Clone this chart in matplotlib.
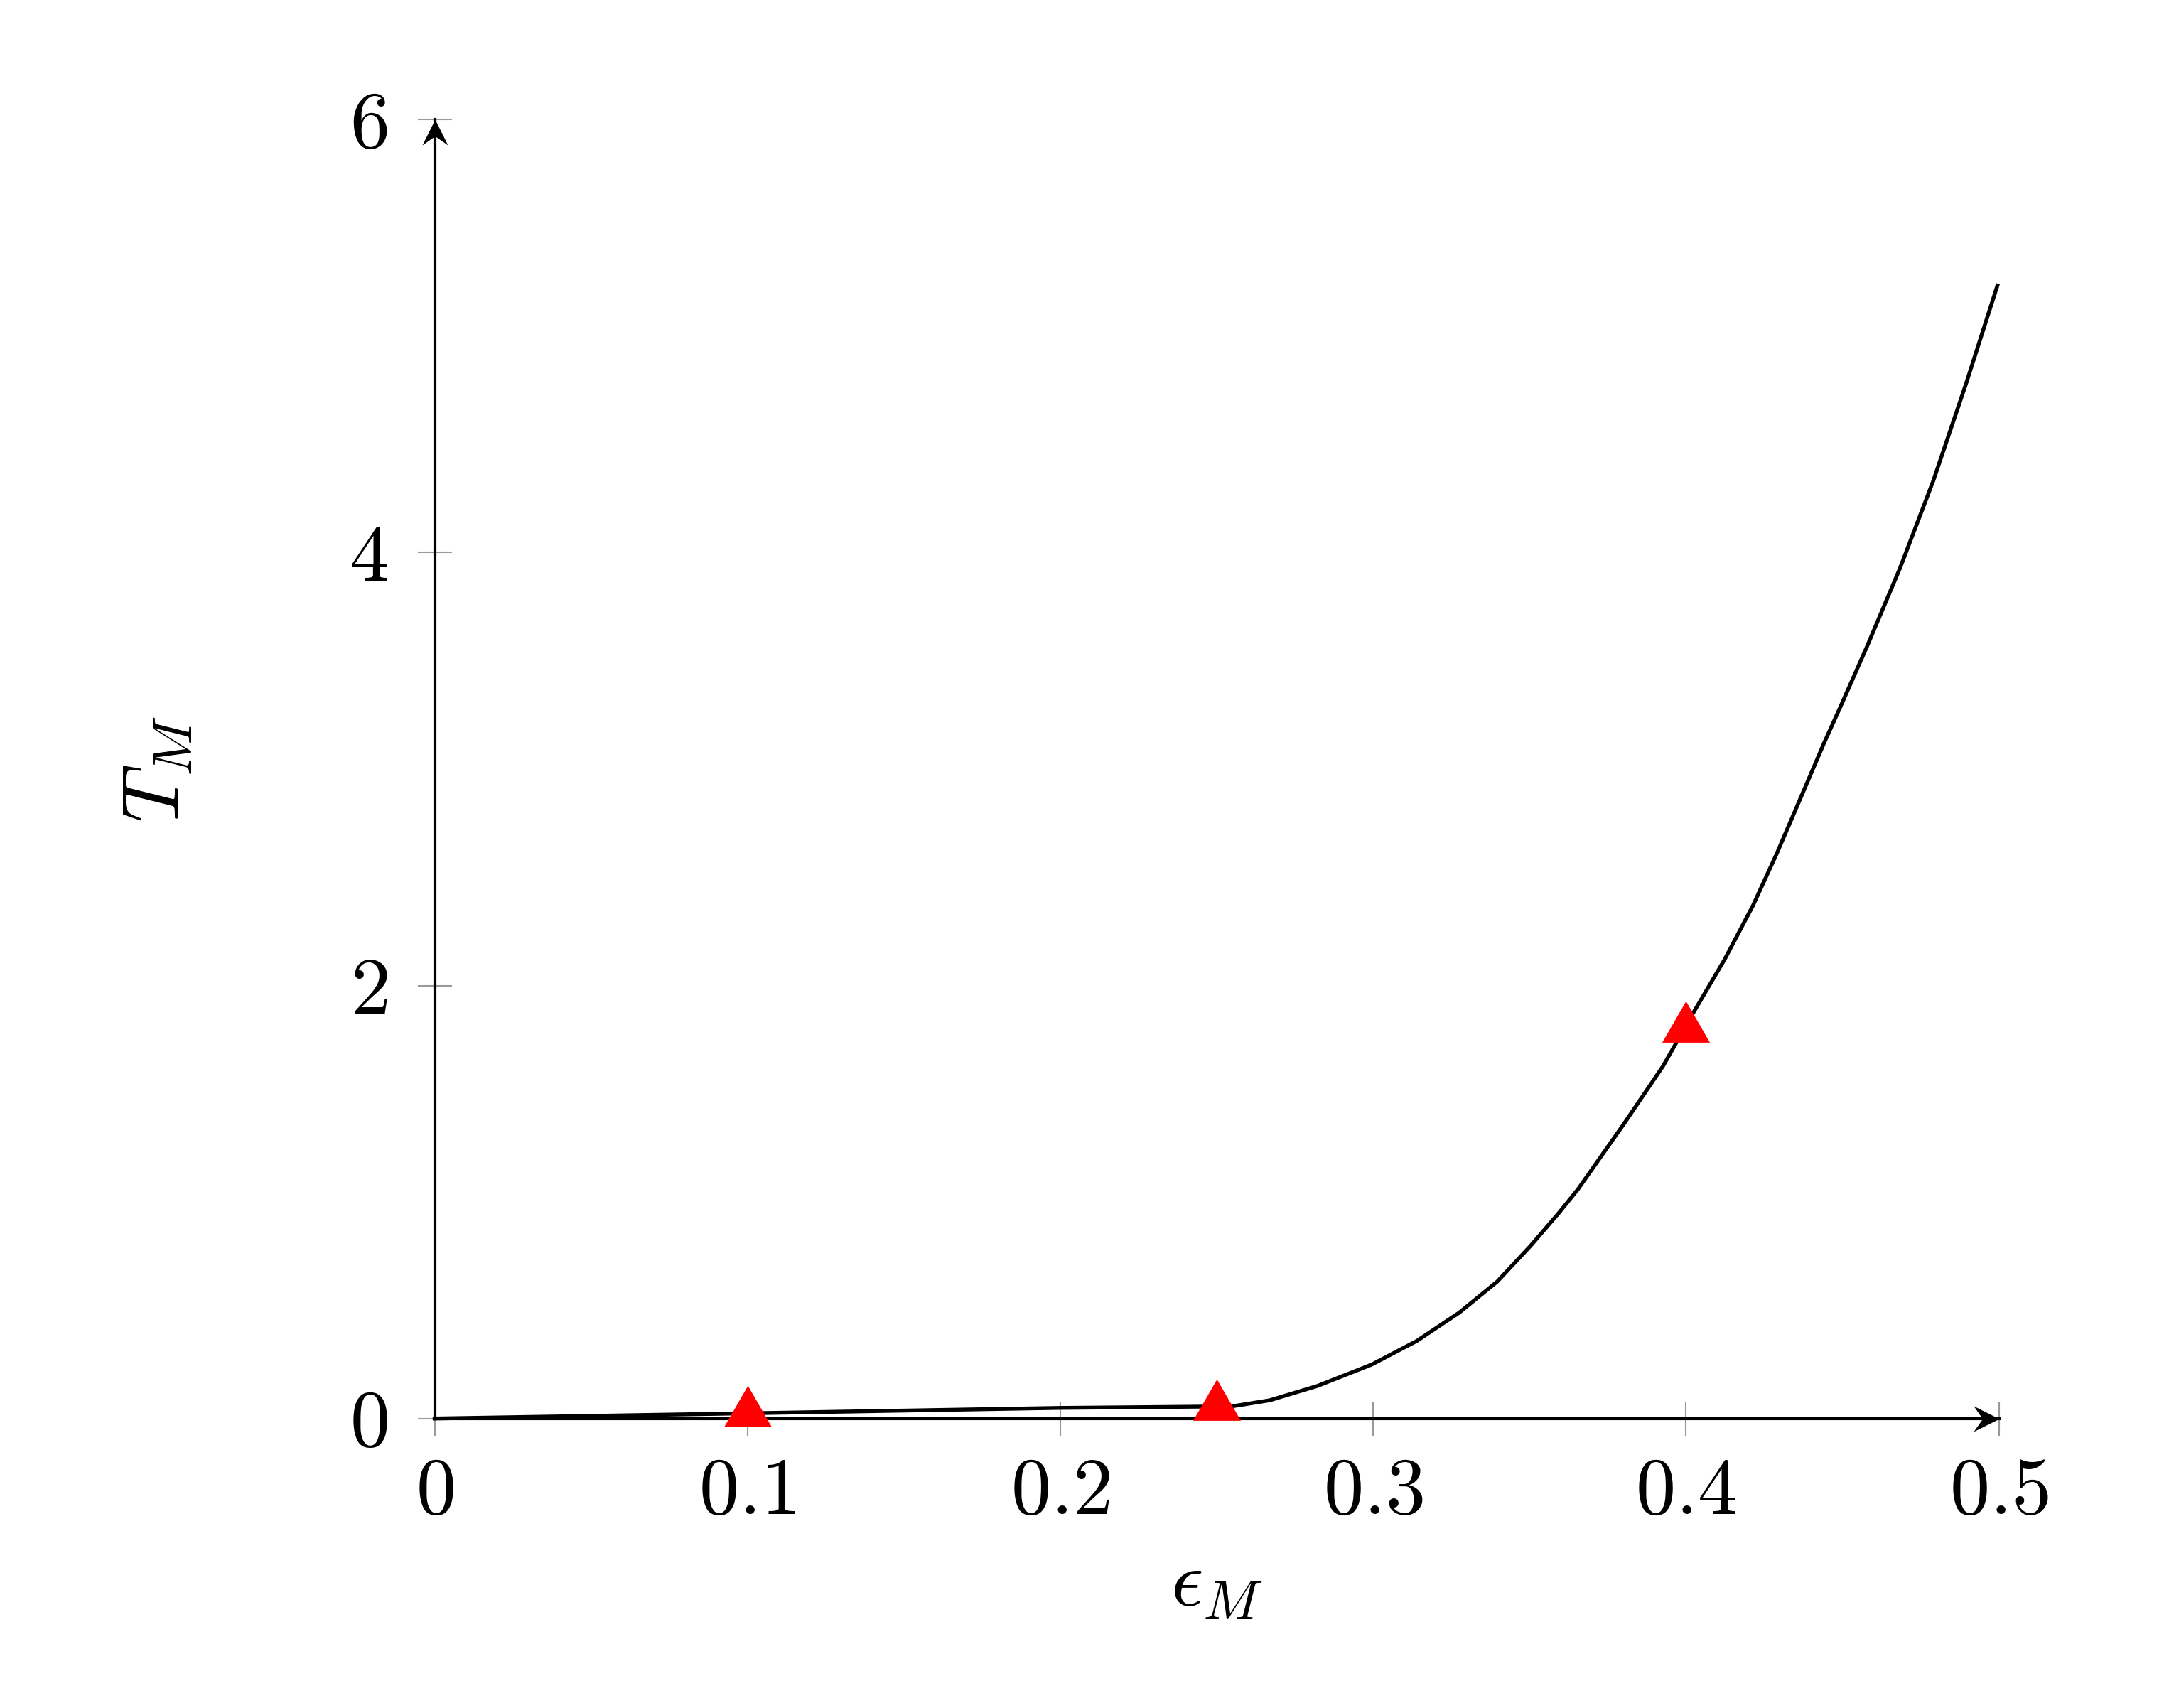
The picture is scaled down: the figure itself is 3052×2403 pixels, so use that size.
import matplotlib
matplotlib.use("Agg")
import matplotlib.pyplot as plt
from matplotlib.path import Path

plt.rcParams['mathtext.fontset'] = 'cm'
plt.rcParams['font.family'] = 'serif'
plt.rcParams['font.serif'] = ['cmr10', 'DejaVu Serif']
plt.rcParams['axes.formatter.use_mathtext'] = True

# curve
eps_m = [0.0, 0.1, 0.2, 0.2548, 0.2669, 0.2821, 0.2995, 0.3139, 0.3275, 0.3396,
         0.3502, 0.3593, 0.3654, 0.3798, 0.3926, 0.4025, 0.4123, 0.4214, 0.429,
         0.4373, 0.4441, 0.4494, 0.4578, 0.4684, 0.479, 0.4896, 0.4995]
t_m = [0.0, 0.024, 0.049, 0.056, 0.084, 0.150, 0.249, 0.358, 0.489, 0.632,
       0.796, 0.949, 1.058, 1.354, 1.627, 1.879, 2.120, 2.37, 2.61,
       2.89, 3.12, 3.29, 3.565, 3.929, 4.331, 4.785, 5.233]

# red triangle points
pts_eps = [0.1, 0.25, 0.4]
pts_t = [0.025, 0.055, 1.80]

xticks = [0, 0.1, 0.2, 0.3, 0.4, 0.5]
xlabels = ["0", "0.1", "0.2", "0.3", "0.4", "0.5"]
yticks = [0, 2, 4, 6]
ylabels = ["0", "2", "4", "6"]

fig = plt.figure(figsize=(3053 / 300, 2403 / 300), dpi=300)
ax = fig.add_axes([0.2003, 0.1695, 0.9213 - 0.2003, 0.930 - 0.1695])

ax.plot(eps_m, t_m, color='black', lw=1.3, zorder=3, clip_on=False,
        solid_joinstyle='round')

tri = Path([(0, 1), (-0.866, -0.5), (0.866, -0.5), (0, 1)],
           [Path.MOVETO, Path.LINETO, Path.LINETO, Path.CLOSEPOLY])
ax.plot(pts_eps, pts_t, linestyle='none', marker=tri, ms=18.6,
        color='#ff0000', mec='none', zorder=4, clip_on=False)

ax.set_xlim(0, 0.5)
ax.set_ylim(0, 6)

for s in ['top', 'right']:
    ax.spines[s].set_visible(False)
for s in ['left', 'bottom']:
    ax.spines[s].set_linewidth(1.0)
    ax.spines[s].set_zorder(2)

# stealth-like arrow heads at the axis ends
right_tip = Path([(0, 0), (-1, 0.5), (-0.65, 0), (-1, -0.5), (0, 0)],
                 [Path.MOVETO, Path.LINETO, Path.LINETO, Path.LINETO, Path.CLOSEPOLY])
up_tip = Path([(0, 0), (-0.5, -1), (0, -0.65), (0.5, -1), (0, 0)],
              [Path.MOVETO, Path.LINETO, Path.LINETO, Path.LINETO, Path.CLOSEPOLY])
ax.plot([0.5], [0], marker=right_tip, ms=17.3, color='black', mec='none',
        clip_on=False, zorder=5)
ax.plot([0], [6], marker=up_tip, ms=17.3, color='black', mec='none',
        clip_on=False, zorder=5)

ax.set_xticks(xticks)
ax.set_xticklabels(["$" + l + "$" for l in xlabels])
ax.set_yticks(yticks)
ax.set_yticklabels(["$" + l + "$" for l in ylabels])
ax.tick_params(direction='inout', length=11.5, width=0.5, color='#999999',
               labelsize=27)
ax.tick_params(axis='x', pad=7.5)
ax.tick_params(axis='y', pad=10)

ax.set_xlabel(r'$\epsilon_M$', fontsize=27, labelpad=7)
ax.set_ylabel(r'$T_M$', fontsize=27, labelpad=52)

fig.savefig("out.png", dpi=300, facecolor='white')
